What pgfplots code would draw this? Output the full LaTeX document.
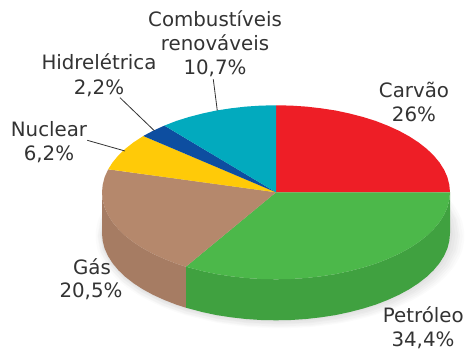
\documentclass[border=0pt]{standalone}
\usepackage{pgfplots}
\usepackage{pgfplotstable}
\usepackage{fontspec}
\setmainfont{DejaVu Sans}
\pgfplotsset{compat=1.18}
\definecolor{cred}{RGB}{238,30,38}
\definecolor{cgreen}{RGB}{76,184,74}
\definecolor{cgreend}{RGB}{64,161,64}
\definecolor{cbrown}{RGB}{181,136,108}
\definecolor{cbrownd}{RGB}{166,124,99}
\definecolor{cyellow}{RGB}{255,202,8}
\definecolor{cblue}{RGB}{13,78,160}
\definecolor{cteal}{RGB}{2,170,190}
\definecolor{ctext}{RGB}{51,51,51}
\pgfplotstableread{
x y
276 105.3
306.2 106.6
335.5 110.5
363 117
387.8 125.7
409.3 136.4
426.7 148.8
439.5 162.5
447.4 177.2
450 192.3
447.4 207.4
439.5 222.1
426.7 235.8
409.3 248.2
387.8 258.9
363 267.6
335.5 274.1
306.2 278
276 279.3
245.8 278
216.5 274.1
185.9 266.7
164.2 258.9
142.7 248.2
125.3 235.8
112.5 222.1
104.6 207.4
102 192.3
104.6 177.2
112.5 162.5
125.3 148.8
143.3 136
164.4 125.6
189 117
216.5 110.5
245.8 106.6
}\ellipsetable
\newcommand{\lab}[3]{\node[anchor=base,text=ctext,inner sep=0pt,font=\fontsize{19.8}{22}\selectfont] at (axis cs:#1,#2) {#3};}
\begin{document}
\begin{tikzpicture}
\begin{axis}[
  width=469pt,height=350pt,scale only axis,
  xmin=0,xmax=469,ymin=0,ymax=350,y dir=reverse,
  hide axis,no markers,clip=true,
]
% page extent
\addplot[fill=white,draw=none] coordinates {(0,0)(469,0)(469,350)(0,350)} -- cycle;
% soft shadow
\addplot[fill=black,fill opacity=.015,draw=none,smooth] table[x expr=280+(\thisrow{x}-276)*1.06,y expr=236+(\thisrow{y}-192.3)*1.06] {\ellipsetable} -- cycle;
\addplot[fill=black,fill opacity=.015,draw=none] table[x expr=280+(\thisrow{x}-276)*1.05,y expr=236+(\thisrow{y}-192.3)*1.05] {\ellipsetable} -- cycle;
\addplot[fill=black,fill opacity=.018,draw=none] table[x expr=279+(\thisrow{x}-276)*1.04,y expr=236+(\thisrow{y}-192.3)*1.04] {\ellipsetable} -- cycle;
\addplot[fill=black,fill opacity=.018,draw=none] table[x expr=279+(\thisrow{x}-276)*1.03,y expr=235+(\thisrow{y}-192.3)*1.03] {\ellipsetable} -- cycle;
\addplot[fill=black,fill opacity=.02,draw=none] table[x expr=278+(\thisrow{x}-276)*1.02,y expr=235+(\thisrow{y}-192.3)*1.02] {\ellipsetable} -- cycle;
\addplot[fill=black,fill opacity=.025,draw=none] table[x expr=277+(\thisrow{x}-276)*1.01,y expr=234+(\thisrow{y}-192.3)*1.01] {\ellipsetable} -- cycle;
% side walls (top arc, then the same arc 41 lower)
\addplot[fill=cgreend,draw=none] coordinates {
(450,192.3)(449.3,199.9)(447.4,207.4)(444.1,214.8)(439.5,222.1)(433.7,229.1)(426.7,235.8)(418.5,242.2)(409.3,248.2)(399,253.8)(387.8,258.9)(375.8,263.6)(363,267.6)(349.5,271.1)(335.5,274.1)(321,276.3)(306.2,278)(291.2,279)(276,279.3)(260.8,279)(245.8,278)(231,276.3)(216.5,274.1)(202.5,271.1)(185.9,266.7)
(185.9,307.7)(202.5,312.1)(216.5,315.1)(231,317.3)(245.8,319)(260.8,320)(276,320.3)(291.2,320)(306.2,319)(321,317.3)(335.5,315.1)(349.5,312.1)(363,308.6)(375.8,304.6)(387.8,299.9)(399,294.8)(409.3,289.2)(418.5,283.2)(426.7,276.8)(433.7,270.1)(439.5,263.1)(444.1,255.8)(447.4,248.4)(449.3,240.9)(450,233.3)
} -- cycle;
\addplot[fill=cbrownd,draw=none] coordinates {
(185.9,266.7)(176.2,263.6)(164.2,258.9)(153,253.8)(142.7,248.2)(133.5,242.2)(125.3,235.8)(118.3,229.1)(112.5,222.1)(107.9,214.8)(104.6,207.4)(102.7,199.9)(102,192.3)
(102,233.3)(102.7,240.9)(104.6,248.4)(107.9,255.8)(112.5,263.1)(118.3,270.1)(125.3,276.8)(133.5,283.2)(142.7,289.2)(153,294.8)(164.2,299.9)(176.2,304.6)(185.9,307.7)
} -- cycle;
% top slices
\addplot[fill=cred,draw=none] coordinates {
(276,192.3)(276,105.3)(291.2,105.6)(306.2,106.6)(321,108.3)(335.5,110.5)(349.5,113.5)(363,117)(375.8,121)(387.8,125.7)(399,130.8)(409.3,136.4)(418.5,142.4)(426.7,148.8)(433.7,155.5)(439.5,162.5)(444.1,169.8)(447.4,177.2)(449.3,184.7)(450,192.3)
} -- cycle;
\addplot[fill=cgreen,draw=none] coordinates {
(276,192.3)(450,192.3)(449.3,199.9)(447.4,207.4)(444.1,214.8)(439.5,222.1)(433.7,229.1)(426.7,235.8)(418.5,242.2)(409.3,248.2)(399,253.8)(387.8,258.9)(375.8,263.6)(363,267.6)(349.5,271.1)(335.5,274.1)(321,276.3)(306.2,278)(291.2,279)(276,279.3)(260.8,279)(245.8,278)(231,276.3)(216.5,274.1)(202.5,271.1)(185.9,266.7)
} -- cycle;
\addplot[fill=cbrown,draw=none] coordinates {
(276,192.3)(185.9,266.7)(176.2,263.6)(164.2,258.9)(153,253.8)(142.7,248.2)(133.5,242.2)(125.3,235.8)(118.3,229.1)(112.5,222.1)(107.9,214.8)(104.6,207.4)(102.7,199.9)(102,192.3)(102.7,184.7)(104.6,177.2)(108.2,169.3)
} -- cycle;
\addplot[fill=cyellow,draw=none] coordinates {
(276,192.3)(108.2,169.3)(112.5,162.5)(118.3,155.5)(125.3,148.8)(133.5,142.4)(143.3,136)
} -- cycle;
\addplot[fill=cblue,draw=none] coordinates {
(276,192.3)(143.3,136)(153,130.8)(164.4,125.6)
} -- cycle;
\addplot[fill=cteal,draw=none] coordinates {
(276,192.3)(164.4,125.6)(176.2,121)(189,117)(202.5,113.5)(216.5,110.5)(231,108.3)(245.8,106.6)(260.8,105.6)(276,105.3)
} -- cycle;
% leader lines
\addplot[draw=ctext,line width=.8pt] coordinates {(213.3,79.3)(217.3,110.7)};
\addplot[draw=ctext,line width=.8pt] coordinates {(120,97.7)(154.3,130.7)};
\addplot[draw=ctext,line width=.8pt] coordinates {(87.3,140.3)(125,151)};
% labels
\lab{215}{26.7}{Combustíveis}
\lab{215}{50.7}{renováveis}
\lab{215}{75}{10,7\%}
\lab{99}{69.3}{Hidrelétrica}
\lab{99}{95}{2,2\%}
\lab{49}{137}{Nuclear}
\lab{49}{161}{6,2\%}
\lab{414}{98}{Carvão}
\lab{414}{122}{26\%}
\lab{92}{274}{Gás}
\lab{91}{298}{20,5\%}
\lab{423.3}{322}{Petróleo}
\lab{423}{346}{34,4\%}
\end{axis}
\end{tikzpicture}
\end{document}
